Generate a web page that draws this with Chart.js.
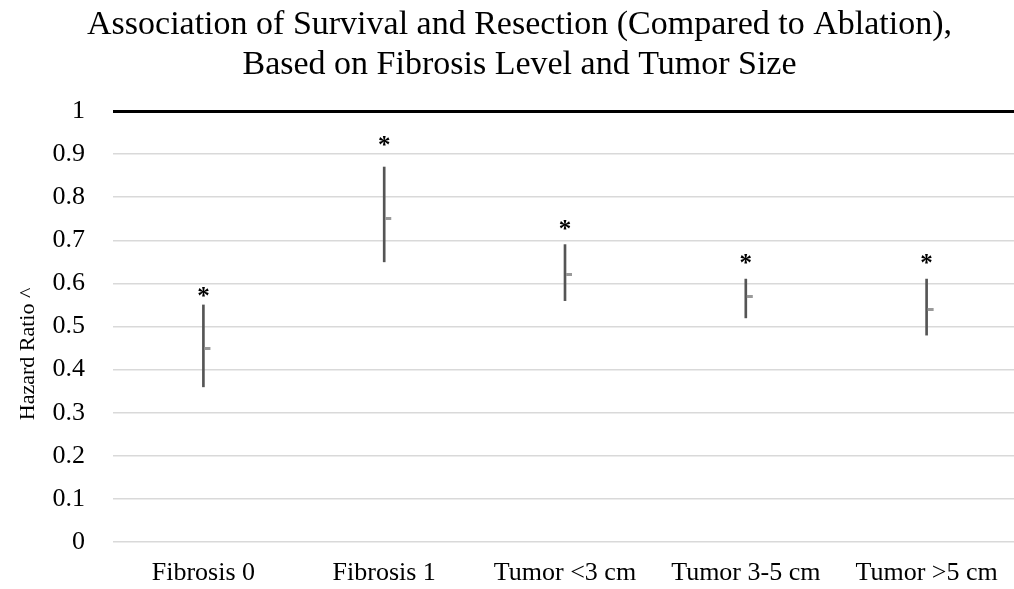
<!DOCTYPE html>
<html>
<head>
<meta charset="utf-8">
<script src="https://cdn.jsdelivr.net/npm/chart.js@4.4.1/dist/chart.umd.min.js"></script>
<style>
  html, body { margin: 0; padding: 0; background: #fff; overflow: hidden; }
  #wrap { position: absolute; left: 0; top: 0; width: 1014px; height: 589px; overflow: hidden; }
  canvas { display: block; }
</style>
</head>
<body>
<div id="wrap"><canvas id="c" width="1022" height="589"></canvas></div>
<script>
const categories = ['Fibrosis 0', 'Fibrosis 1', 'Tumor <3 cm', 'Tumor 3-5 cm', 'Tumor >5 cm'];
const hazardRatio = [0.45, 0.75, 0.62, 0.57, 0.54];
const ciLower = [0.36, 0.65, 0.56, 0.52, 0.48];
const ciUpper = [0.55, 0.87, 0.69, 0.61, 0.61];
const starLevel = [0.58, 0.93, 0.735, 0.655, 0.655];
const yTickLabels = ['0', '0.1', '0.2', '0.3', '0.4', '0.5', '0.6', '0.7', '0.8', '0.9', '1'];
const titleLines = ['Association of Survival and Resection (Compared to Ablation),', 'Based on Fibrosis Level and Tumor Size'];
const yAxisTitle = 'Hazard Ratio ^';

const SERIF = "'Liberation Serif', 'Times New Roman', serif";

// small gray tick to the right of the CI line marking the point estimate
const tickImg = document.createElement('canvas');
tickImg.width = 16; tickImg.height = 3;
(function () {
  const g = tickImg.getContext('2d');
  g.fillStyle = '#9a9a9a';
  g.fillRect(9, 0, 6, 3);
})();

const starPlugin = {
  id: 'stars',
  afterDatasetsDraw(chart) {
    const idx = chart.data.datasets.findIndex(d => d.label === 'stars');
    const meta = chart.getDatasetMeta(idx);
    const ctx = chart.ctx;
    ctx.save();
    ctx.fillStyle = '#000';
    ctx.font = 'bold 25px ' + SERIF;
    ctx.textAlign = 'center';
    ctx.textBaseline = 'alphabetic';
    meta.data.forEach(pt => {
      ctx.fillText('*', pt.x, pt.y + 11.5);
    });
    ctx.restore();
  }
};

new Chart(document.getElementById('c'), {
  data: {
    labels: categories,
    datasets: [
      {
        type: 'bar',
        label: 'CI',
        data: ciLower.map((lo, i) => [lo, ciUpper[i]]),
        backgroundColor: '#555555',
        borderWidth: 0,
        barThickness: 2,
        order: 2
      },
      {
        type: 'line',
        label: 'HR',
        data: hazardRatio,
        showLine: false,
        pointStyle: tickImg,
        pointRadius: 4,
        order: 1
      },
      {
        type: 'line',
        label: 'stars',
        data: starLevel,
        showLine: false,
        pointRadius: 0,
        order: 0
      }
    ]
  },
  options: {
    responsive: false,
    devicePixelRatio: 1,
    animation: false,
    layout: { padding: { left: 18, right: 1, top: 0, bottom: 0 } },
    plugins: {
      legend: { display: false },
      tooltip: { enabled: false },
      title: {
        display: true,
        text: titleLines,
        color: '#000',
        font: { family: SERIF, size: 34, weight: 'normal', lineHeight: 40 / 34 },
        padding: { top: 5, bottom: 26 }
      }
    },
    scales: {
      x: {
        offset: true,
        afterFit(scale) { scale.height = 47; },
        grid: { display: false, drawTicks: false },
        border: { display: false },
        ticks: {
          color: '#000',
          font: { family: SERIF, size: 26 },
          padding: 16,
          maxRotation: 0,
          autoSkip: false
        }
      },
      y: {
        min: 0,
        max: 1,
        afterFit(scale) { scale.width = 95; },
        grid: {
          drawTicks: false,
          color: ctx => (ctx.tick && ctx.tick.value === 1) ? '#000' : '#d9d9d9',
          lineWidth: ctx => (ctx.tick && ctx.tick.value === 1) ? 3 : 1.5
        },
        border: { display: false },
        ticks: {
          stepSize: 0.1,
          color: '#000',
          font: { family: SERIF, size: 26 },
          padding: 28,
          callback: (v, i) => yTickLabels[i]
        },
        title: {
          display: true,
          text: yAxisTitle + '\u2002\u2002\u2002\u2002\u2002',
          color: '#000',
          font: { family: SERIF, size: 22 },
          padding: { top: -3, bottom: 0 }
        }
      }
    }
  },
  plugins: [starPlugin]
});
</script>
</body>
</html>
